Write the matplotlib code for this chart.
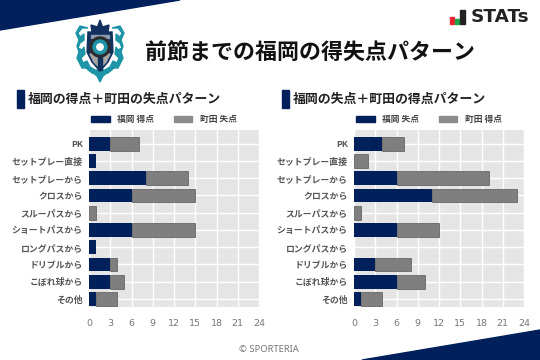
#!/usr/bin/env python3
import matplotlib
matplotlib.use('Agg')
import matplotlib.pyplot as plt
from matplotlib.patches import Polygon, Rectangle, Circle

plt.rcParams['font.family'] = ['Noto Sans CJK JP', 'DejaVu Sans']

NAVY = '#00205b'
GRAY = '#7f7f7f'

# Data
categories = ['PK', 'セットプレー直接', 'セットプレーから', 'クロスから', 'スルーパスから',
              'ショートパスから', 'ロングパスから', 'ドリブルから', 'こぼれ球から', 'その他']
fukuoka_scored = [3, 1, 8, 6, 0, 6, 1, 3, 3, 1]
machida_conceded = [4, 0, 6, 9, 1, 9, 0, 1, 2, 3]
fukuoka_conceded = [4, 0, 6, 11, 0, 6, 0, 3, 6, 1]
machida_scored = [3, 2, 13, 12, 1, 6, 0, 5, 4, 3]
x_ticks = [0, 3, 6, 9, 12, 15, 18, 21, 24]

W, H = 540, 360


def draw_bars(rect, first, second):
    """Stacked horizontal bars; rect is left, top, right, bottom in pixels."""
    left, top, right, bottom = rect
    ax = fig.add_axes([left / W, 1 - bottom / H, (right - left) / W, (bottom - top) / H])
    ax.set_facecolor('#e5e5e5')
    ax.barh(categories, first, height=0.8, color=NAVY, zorder=3)
    # no edge on empty segments, they would show up as a thin line
    edge_w = [0.6 if v > 0 else 0 for v in second]
    ax.barh(categories, second, left=first, height=0.8, color=GRAY, edgecolor='#666666',
            linewidth=edge_w, zorder=3)
    ax.set_xlim(0, 24)
    ax.set_ylim(9.47, -0.8)
    ax.set_xticks(x_ticks)
    ax.grid(True, color='white', linewidth=1.0, zorder=1)
    ax.set_axisbelow(True)
    for s in ax.spines.values():
        s.set_visible(False)
    ax.tick_params(axis='both', length=0)
    ax.tick_params(axis='x', labelsize=6.8, labelcolor='#777777', pad=9)
    ax.tick_params(axis='y', labelsize=6.4, labelcolor='#555555', pad=4.5)
    for lab in ax.get_xticklabels():
        lab.set_family('DejaVu Sans')
    for lab in ax.get_yticklabels():
        lab.set_fontweight('bold')
    return ax


def draw_header(x0, title, label1, label2):
    """Section marker, section title and hand placed legend."""
    bg.add_patch(Rectangle((x0, 90), 7, 18, color=NAVY))
    bg.text(x0 + 11, 99, title, fontsize=9.3, fontweight='bold', color='#222222',
            va='center', ha='left')
    bg.add_patch(Rectangle((x0 + 74, 116), 19, 6, color=NAVY))
    bg.text(x0 + 100, 119.5, label1, fontsize=6.3, fontweight='bold', color='#444444',
            va='center', ha='left')
    bg.add_patch(Rectangle((x0 + 157, 116), 18, 6, color='#8c8c8c'))
    bg.text(x0 + 183, 119.5, label2, fontsize=6.3, fontweight='bold', color='#444444',
            va='center', ha='left')


def draw_emblem(a):
    """Rough Avispa Fukuoka style crest."""
    teal = '#1d94a8'
    dark = '#12315f'
    # side scrolls, mirrored around x=100
    scroll = [(88, 28), (82, 28), (78, 33), (80, 37), (84, 34), (84, 40), (80, 43), (78, 48),
              (82, 50), (84, 47), (85, 54), (81, 58), (83, 63), (87, 61), (90, 67), (95, 70),
              (100, 70), (100, 74), (92, 73), (86, 68), (82, 68), (79, 62), (77, 58), (79, 52),
              (77, 46), (79, 40), (76, 33), (80, 26)]
    a.add_patch(Polygon(scroll, closed=True, color=teal))
    a.add_patch(Polygon([(200 - x, y) for x, y in scroll], closed=True, color=teal))
    # tail
    a.add_patch(Polygon([(92, 72), (100, 70), (108, 72), (103, 76), (100, 82), (97, 76)],
                        closed=True, color=teal))
    # crown
    a.add_patch(Polygon([(100, 20), (102.5, 27), (109, 25), (108, 32), (92, 32), (91, 25),
                         (97.5, 27)], closed=True, color=dark))
    # shield
    a.add_patch(Polygon([(88, 32), (112, 32), (113, 52), (108, 62), (100, 71), (92, 62), (87, 52)],
                        closed=True, color=dark))
    a.add_patch(Polygon([(91, 35), (109, 35), (109, 38), (91, 38)], closed=True, color='#8d9bb0'))
    a.add_patch(Polygon([(90, 54), (110, 54), (106, 62), (100, 68), (94, 62)], closed=True,
                        color='#a6a6a6'))
    a.add_patch(Polygon([(98, 40), (102, 40), (102, 70), (98, 70)], closed=True, color=dark))
    a.add_patch(Circle((100, 47), 10, color='#2b2b2b'))
    a.add_patch(Circle((100, 47), 7, color=teal))
    a.add_patch(Circle((100, 47), 3.2, color='white'))


fig = plt.figure(figsize=(W / 100, H / 100), dpi=100, facecolor='white')

# pixel coordinate layer for the decoration
bg = fig.add_axes([0, 0, 1, 1])
bg.set_xlim(0, W)
bg.set_ylim(H, 0)
bg.axis('off')

bg.add_patch(Polygon([(0, 0), (180, 0), (0, 30)], closed=True, color=NAVY))
bg.add_patch(Polygon([(362, 360), (540, 330), (540, 360)], closed=True, color=NAVY))

draw_emblem(bg)

bg.text(310, 53, '前節までの福岡の得失点パターン', fontsize=15.8, fontweight='bold',
        color='#111111', ha='center', va='center')

# STATs logo
bg.add_patch(Rectangle((450, 17), 4, 7, color='#e8222e'))
bg.add_patch(Rectangle((455, 19), 4, 5, color='#1ea54c'))
bg.add_patch(Rectangle((460, 10), 5, 14, color='#222222'))
bg.text(471, 16.5, 'STATs', fontsize=13.2, fontweight='bold', family='DejaVu Sans',
        color='#222222', ha='left', va='center')

draw_header(17, '福岡の得点＋町田の失点パターン', '福岡 得点', '町田 失点')
draw_header(282, '福岡の失点＋町田の得点パターン', '福岡 失点', '町田 得点')

draw_bars((89, 130, 259, 307), fukuoka_scored, machida_conceded)
draw_bars((354, 130, 524, 307), fukuoka_conceded, machida_scored)

bg.text(269, 350, '© SPORTERIA', fontsize=6.8, color='#777777', ha='center', va='center',
        family='Noto Sans')

fig.savefig('out.png', dpi=100)
